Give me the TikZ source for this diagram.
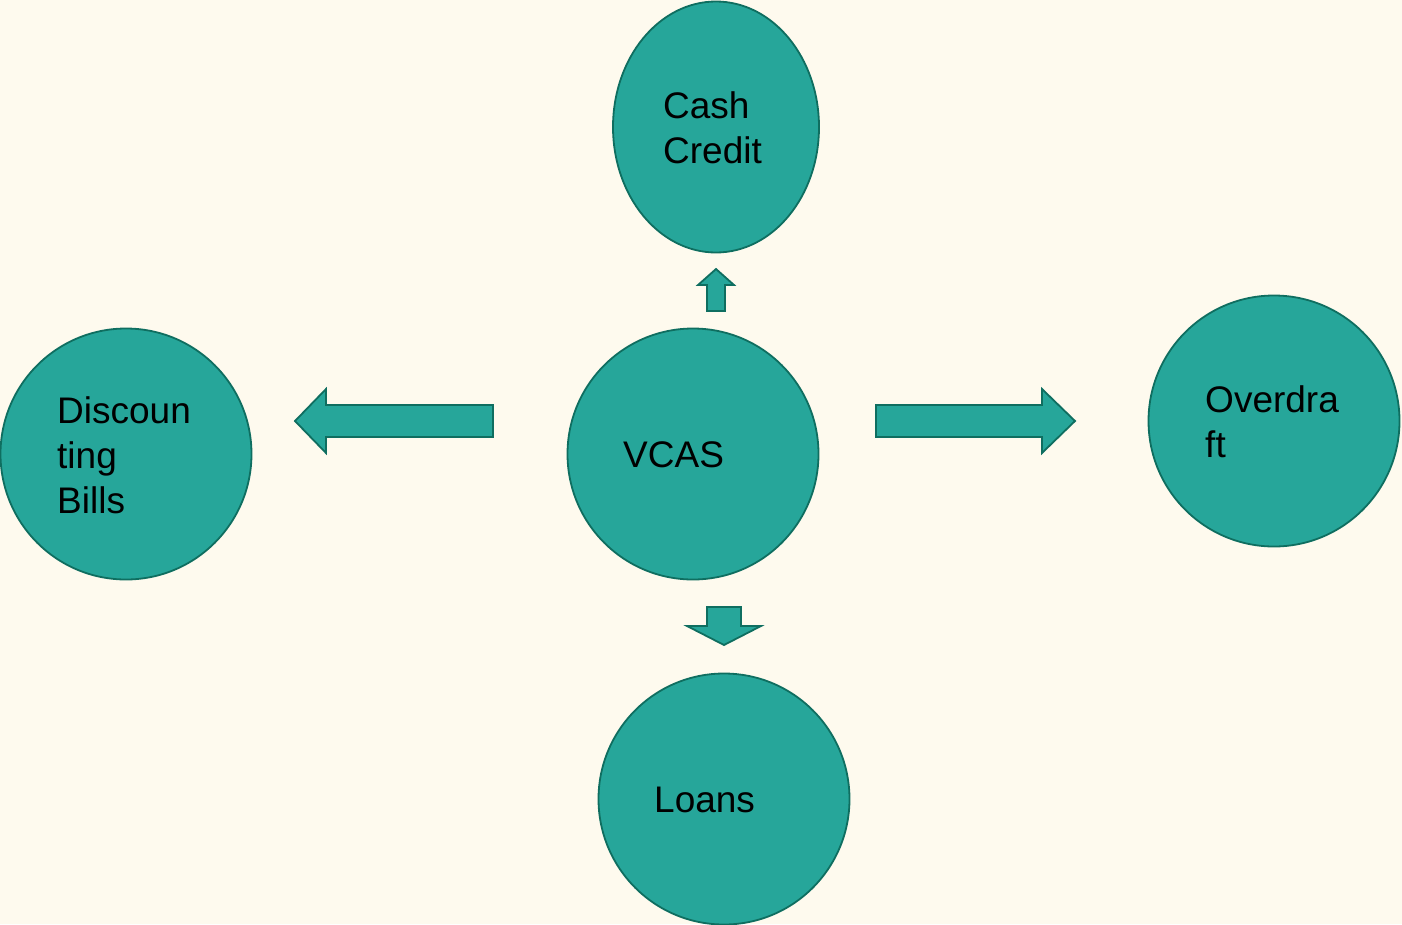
\documentclass[tikz,border=0pt]{standalone}
\usepackage{fontspec}
\setmainfont{Liberation Sans}
\usetikzlibrary{shapes.geometric}
\definecolor{bgcream}{HTML}{FEFAEE}
\definecolor{tealfill}{HTML}{26A69A}
\definecolor{tealline}{HTML}{0F6E60}
\tikzset{
  bubble/.style={circle, draw=tealline, fill=tealfill, line width=1.8pt, minimum size=251pt, inner sep=0pt},
  oval/.style={ellipse, draw=tealline, fill=tealfill, line width=1.8pt, minimum width=206pt, minimum height=251pt, inner sep=0pt},
  blockarrow/.style={draw=tealline, fill=tealfill, line width=1.8pt, line join=miter},
  label/.style={anchor=west, inner sep=0pt, align=left, font=\fontsize{37}{45}\selectfont, text=black}
}
\begin{document}
\begin{tikzpicture}[x=1pt,y=-1pt]
\fill[bgcream] (0,0) rectangle (1402,924);
\useasboundingbox (0,0) rectangle (1402,924);

\node[oval] (cash) at (716,127) {};
\node[bubble] (disc) at (126,454) {};
\node[bubble] (vcas) at (693,454) {};
\node[bubble] (over) at (1274,421) {};
\node[bubble] (loans) at (724,799) {};

\node[label] (tcash) at (663,127.5) {Cash\\Credit};
\node[label] (tdisc) at (57,455) {Discoun\\ting\\Bills};
\node[label] (tvcas) at (623,455) {VCAS};
\node[label] (tover) at (1205,422) {Overdra\\ft};
\node[label] (tloans) at (654,800) {Loans};

% up arrow
\draw[blockarrow] (707,311) -- (707,285) -- (698,285) -- (716,269) -- (734,285) -- (725,285) -- (725,311) -- cycle;
% down arrow
\draw[blockarrow] (707,607) -- (741,607) -- (741,626) -- (761,626) -- (724,645) -- (687,626) -- (707,626) -- cycle;
% left arrow
\draw[blockarrow] (493,405) -- (326,405) -- (326,389) -- (295,421) -- (326,453) -- (326,437) -- (493,437) -- cycle;
% right arrow
\draw[blockarrow] (876,405) -- (1042,405) -- (1042,389) -- (1075,421) -- (1042,453) -- (1042,437) -- (876,437) -- cycle;
\end{tikzpicture}
\end{document}
